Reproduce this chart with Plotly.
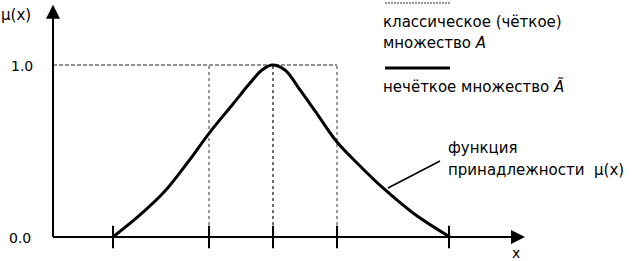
import plotly.graph_objects as go

# membership function mu(x)
curve_x = [1.5, 2.175, 2.8, 3.375, 3.925, 4.5, 4.925, 5.225, 5.475, 5.8, 6.175, 6.55, 7.1, 7.675, 8.25, 9.0, 9.925]
curve_y = [0.0, 0.128, 0.267, 0.436, 0.610, 0.773, 0.895, 0.971, 1.0, 0.971, 0.855, 0.733, 0.552, 0.413, 0.285, 0.140, 0.0]

# tick positions on the x axis
tick_x = [1.5, 3.9, 5.5, 7.1, 9.9]
# crisp set boundaries (dotted rectangle) and peak
crisp_left, crisp_peak, crisp_right = 3.9, 5.5, 7.1
y_top = 1.0

W, H = 639, 261
X0, XS = 53, 40.0     # px of x=0, px per unit
Y0, YS = 237, 172.0   # px of y=0, px per unit

def pp(x, y):
    return x / W, 1 - y / H

fig = go.Figure()

FONT = "DejaVu Sans"
dot = dict(color="#333", width=1, dash="dot")

# dotted crisp-set rectangle
fig.add_trace(go.Scatter(x=[0, crisp_right], y=[y_top, y_top], mode="lines",
                         line=dict(color="#222", width=1.2, dash="4px,2px"), hoverinfo="skip"))
for xv, st in [(crisp_left, dot), (crisp_right, dot),
               (crisp_peak, dict(color="#111", width=1.2, dash="3px,3px"))]:
    fig.add_trace(go.Scatter(x=[xv, xv], y=[0, y_top], mode="lines", line=st, hoverinfo="skip"))

# axes
fig.add_trace(go.Scatter(x=[0, 11.6], y=[0, 0], mode="lines",
                         line=dict(color="black", width=2), hoverinfo="skip"))
fig.add_trace(go.Scatter(x=[0, 0], y=[0, 1.30], mode="lines",
                         line=dict(color="black", width=2), hoverinfo="skip"))

# ticks
fig.add_trace(go.Scatter(x=tick_x, y=[0] * len(tick_x), mode="markers",
                         marker=dict(symbol="line-ns-open", size=16, color="black",
                                     line=dict(color="black", width=2)), hoverinfo="skip"))

# membership curve
fig.add_trace(go.Scatter(x=curve_x, y=curve_y, mode="lines", line_shape="spline",
                         line=dict(color="black", width=3), hoverinfo="skip"))

annotations = []
# axis arrows
annotations.append(dict(x=11.8, y=0, ax=11.3, ay=0, xref="x", yref="y", axref="x", ayref="y",
                        showarrow=True, arrowhead=2, arrowsize=1.4, arrowwidth=2,
                        arrowcolor="black", text=""))
annotations.append(dict(x=0, y=1.35, ax=0, ay=1.25, xref="x", yref="y", axref="x", ayref="y",
                        showarrow=True, arrowhead=2, arrowsize=1.4, arrowwidth=2,
                        arrowcolor="black", text=""))

def txt(x, y, s, size=15, xanchor="left"):
    xp, yp = pp(x, y)
    annotations.append(dict(x=xp, y=yp, xref="paper", yref="paper", text=s, showarrow=False,
                            xanchor=xanchor, yanchor="middle",
                            font=dict(family=FONT, size=size, color="black")))

txt(-1, 15, "μ(x)", 15)
txt(35, 66, "1.0", 14, "right")
txt(33, 238, "0.0", 14, "right")
txt(510, 253, "x", 14)
txt(381, 22, "классическое (чёткое)", 15)
txt(381, 43, "множество <i>A</i>", 15)
txt(381, 86, "нечёткое множество <i>Ã</i>", 15)
txt(446, 148, "функция", 15)
txt(446, 170, "принадлежности  μ(x)", 15)

shapes = []
# legend samples
x1, y1 = pp(385, 3); x2, _ = pp(450, 3)
shapes.append(dict(type="line", xref="paper", yref="paper", x0=x1, x1=x2, y0=y1, y1=y1,
                   line=dict(color="#333", width=1, dash="2px,1px")))
x1, y1 = pp(385, 68); x2, _ = pp(450, 68)
shapes.append(dict(type="line", xref="paper", yref="paper", x0=x1, x1=x2, y0=y1, y1=y1,
                   line=dict(color="black", width=3)))
# pointer line to curve
shapes.append(dict(type="line", xref="x", yref="y", x0=8.375, y0=0.285, x1=9.675, y1=0.442,
                   line=dict(color="black", width=1.5)))

fig.update_layout(
    width=W, height=H, margin=dict(l=0, r=0, t=0, b=0),
    paper_bgcolor="white", plot_bgcolor="white", showlegend=False,
    xaxis=dict(range=[-X0 / XS, (W - X0) / XS], visible=False, fixedrange=True),
    yaxis=dict(range=[(Y0 - H) / YS, Y0 / YS], visible=False, fixedrange=True),
    annotations=annotations, shapes=shapes,
)

fig.write_html("out.html", config={"displayModeBar": False},
               post_script="document.body.style.margin='0';document.body.style.overflow='hidden';")
